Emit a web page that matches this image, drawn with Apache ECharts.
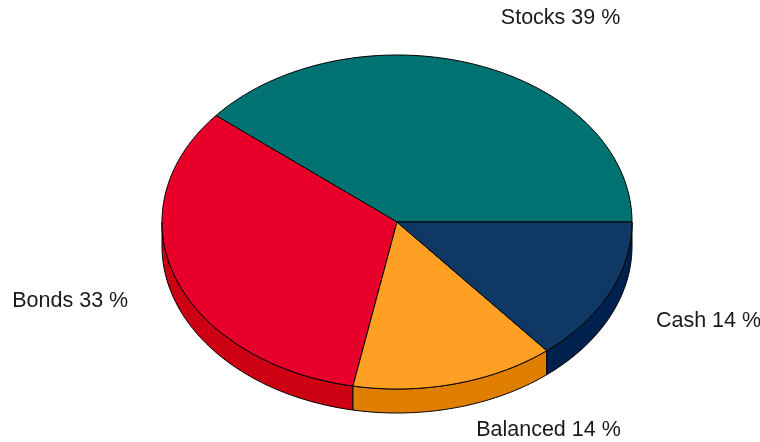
<!DOCTYPE html>
<html>
<head>
<meta charset="utf-8">
<script src="https://cdn.jsdelivr.net/npm/echarts@6/dist/echarts.min.js"></script>
<style>
  html, body { margin: 0; padding: 0; background: #fff; }
  #chart { width: 760px; height: 442px; }
</style>
</head>
<body>
<div id="chart"></div>
<script>
// data
const categories = ['Stocks', 'Bonds', 'Balanced', 'Cash']
const shares = [39, 33, 14, 14]

// colours: top face and darker side wall
const topColors = ['#007272', '#E8002B', '#FFA024', '#0F3864']
const sideColors = ['#005050', '#CC0012', '#E07E00', '#00204E']

// pie geometry (tilted ellipse)
const cx = 397, cy = 222, rx = 235, ry = 167, depth = 24

const total = shares.reduce((a, b) => a + b, 0)
const starts = []
let acc = 0
for (let i = 0; i < shares.length; i++) {
  starts.push(acc / total * 360)
  acc += shares[i]
}

function pt(deg, dy) {
  const t = deg * Math.PI / 180
  return [cx + rx * Math.cos(t), cy - ry * Math.sin(t) + (dy || 0)]
}

function arc(a0, a1, dy) {
  const pts = []
  const n = Math.max(2, Math.ceil(Math.abs(a1 - a0) / 1))
  for (let k = 0; k <= n; k++) pts.push(pt(a0 + (a1 - a0) * k / n, dy))
  return pts
}

function renderItem(params, api) {
  const i = params.dataIndex
  const a0 = starts[i]
  const a1 = a0 + api.value(0) / total * 360
  const children = []

  // side wall, only the front half (180..360) is visible
  const s0 = Math.max(a0, 180), s1 = Math.min(a1, 360)
  if (s1 > s0) {
    const pts = arc(s0, s1, 0).concat(arc(s1, s0, depth))
    children.push({
      type: 'polygon',
      z2: 1,
      shape: { points: pts },
      style: { fill: sideColors[i], stroke: '#000', lineWidth: 1 }
    })
  }

  // top face
  children.push({
    type: 'polygon',
    z2: 10,
    shape: { points: [[cx, cy]].concat(arc(a0, a1, 0)) },
    style: { fill: topColors[i], stroke: '#000', lineWidth: 1 }
  })

  // label, outside the rim, kept inside the canvas
  const mid = (a0 + a1) / 2
  const t = mid * Math.PI / 180
  const c = Math.cos(t), s = Math.sin(t)
  const lx = cx + (rx + 39) * c + (c >= 0 ? 11 : -11)
  let ly = cy - ry * (s > 0 ? 1.3 : 1.4) * s
  ly = Math.min(ly, api.getHeight() - 12)
  children.push({
    type: 'text',
    z2: 20,
    x: lx,
    y: ly,
    style: {
      text: categories[i] + ' ' + api.value(0) + ' %',
      fill: '#1a1a1a',
      font: '21.5px "Liberation Sans", Arial, sans-serif',
      align: c >= 0 ? 'left' : 'right',
      verticalAlign: 'middle'
    }
  })

  return { type: 'group', children: children }
}

const myChart = echarts.init(document.getElementById('chart'))
myChart.setOption({
  animation: false,
  series: [
    {
      type: 'custom',
      coordinateSystem: 'none',
      renderItem: renderItem,
      data: shares.map(v => [v])
    }
  ]
})
</script>
</body>
</html>
